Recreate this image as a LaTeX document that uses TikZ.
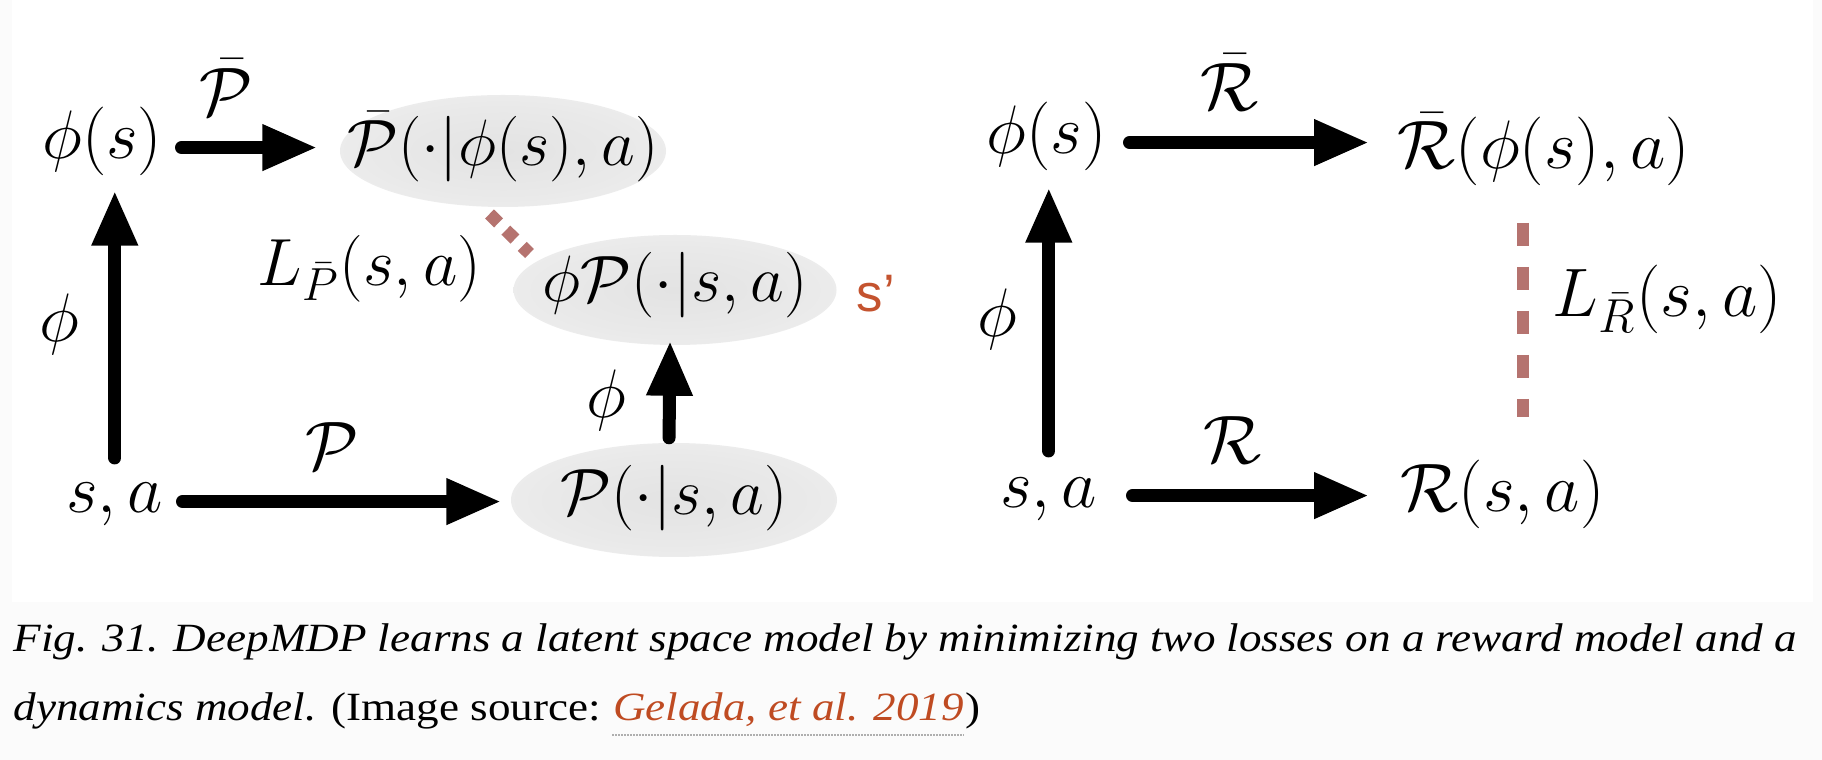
\documentclass[tikz,border=0pt]{standalone}
\usepackage[no-math]{fontspec}
\usepackage{xcolor}
\usepackage{graphicx}
\usetikzlibrary{shapes.geometric,arrows.meta,positioning,calc}
\newfontfamily\capfont[FakeStretch=1.125]{Liberation Serif}
\newfontfamily\sfont{Liberation Sans}
\definecolor{LossRed}{HTML}{B5736F}
\definecolor{SPrime}{HTML}{C4532F}
\definecolor{LinkRust}{HTML}{BF4B22}
\definecolor{PageBg}{HTML}{FBFBFB}
\definecolor{DotGray}{HTML}{AFAFAF}
\newcommand{\mth}[2][1.13]{\scalebox{#1}{$#2$}}
\pgfdeclareradialshading{blobshade}{\pgfpoint{0bp}{0bp}}{%
  color(0bp)=(black!11); color(20bp)=(black!8.5); color(36bp)=(black!5.5);
  color(45bp)=(black!3); color(50bp)=(white)}
\tikzset{
  mathnode/.style={inner sep=0pt,text height=11pt,text depth=4.5pt,
    font=\fontsize{17.28}{20}\selectfont},
  blob/.style={ellipse,shading=blobshade,minimum width=3.26cm,minimum height=1.12cm},
  lbl/.style={inner sep=0pt,font=\fontsize{17.28}{20}\selectfont},
  fatarrow/.style={line width=0.13cm,line cap=round,
    -{Triangle[length=0.55cm,width=0.43cm]}},
  lossdash/.style={draw=LossRed,line width=0.12cm,dash pattern=on 0.23cm off 0.21cm},
  lossdots/.style={draw=LossRed,line width=0.127cm,dash pattern=on 0.127cm off 0.103cm},
  sprime/.style={inner sep=0pt,text=SPrime,font=\sfont\fontsize{15}{17}\selectfont},
  captxt/.style={inner sep=0pt,font=\capfont\fontsize{11.4}{13}\selectfont}}

\begin{document}
\begin{tikzpicture}
  \useasboundingbox (0,0) rectangle (18.22,-7.60);
  \fill[PageBg] (0,0) rectangle (18.22,-7.60);
  \fill[white] (0.12,0) rectangle (18.13,-6.02);

  % transition model
  \node[mathnode,anchor=base east] (phis) at (1.63,-1.59) {\mth{\phi(s)}};
  \node[mathnode,anchor=base east] (sa) at (1.64,-5.13) {\mth{s,a}};
  \node[blob,label={[mathnode,yshift=-0.03cm]center:\mth[1.08]{\bar{\mathcal{P}}(\cdot|\phi(s),a)}}] (Pbar) at (5.03,-1.51) {};
  \node[blob,minimum width=3.23cm,minimum height=1.10cm,
    label={[mathnode]center:\mth[1.08]{\phi\mathcal{P}(\cdot|s,a)}}] (phiP) at (6.75,-2.90) {};
  \node[blob,minimum height=1.14cm,label={[mathnode,yshift=-0.03cm]center:\mth[1.08]{\mathcal{P}(\cdot|s,a)}}] (Ps) at (6.74,-5.00) {};
  \node[mathnode,anchor=base east] (lossP) at (4.82,-2.86) {\mth[1.1]{L_{\bar{P}}(s,a)}};
  \node[sprime,right=0.19cm of phiP,yshift=-0.04cm] (sp) {s’};

  \draw[fatarrow,shorten <=0.185cm,shorten >=0.22cm] (phis.east) -- (phis.east -| Pbar.west)
    node[lbl,pos=0.36,above=0.26cm] {\mth{\bar{\mathcal{P}}}};
  \draw[fatarrow,shorten <=0.185cm,shorten >=0.09cm] (sa.east) -- (sa.east -| Ps.west)
    node[lbl,pos=0.487,above=0.26cm] {\mth{\mathcal{P}}};
  \draw[fatarrow,shorten <=0.157cm,shorten >=0.151cm] (sa.north) -- (sa.north |- phis.south)
    node[lbl,pos=0.5,left=0.29cm] {\mth{\phi}};
  \draw[fatarrow,shorten <=0.045cm,shorten >=-0.05cm] ([xshift=-0.05cm]Ps.north) -- ([xshift=-0.05cm]phiP.south)
    node[lbl,pos=0.43,left=0.37cm] {\mth{\phi}};

  \coordinate (lPtop) at (4.895,-2.14);
  \coordinate (lPbot) at (5.295,-2.535);
  \draw[lossdots] (lPtop) -- (lPbot);

  % reward model
  \node[mathnode,anchor=base east] (phisR) at (11.07,-1.54) {\mth{\phi(s)}};
  \node[mathnode,anchor=base east] (saR) at (10.98,-5.07) {\mth{s,a}};
  \node[mathnode,anchor=base west] (Rbar) at (13.97,-1.69) {\mth{\bar{\mathcal{R}}(\phi(s),a)}};
  \node[mathnode,anchor=base west] (Rsa) at (14.00,-5.12) {\mth{\mathcal{R}(s,a)}};
  \node[mathnode,anchor=base west] (lossR) at (15.52,-3.17) {\mth{L_{\bar{R}}(s,a)}};

  \draw[fatarrow,shorten <=0.225cm,shorten >=0.28cm] (phisR.east) -- (phisR.east -| Rbar.west)
    node[lbl,pos=0.424,above=0.26cm] {\mth{\bar{\mathcal{R}}}};
  \draw[fatarrow,shorten <=0.345cm,shorten >=0.31cm] (saR.east) -- (saR.east -| Rsa.west)
    node[lbl,pos=0.444,above=0.26cm] {\mth{\mathcal{R}}};
  \draw[fatarrow,shorten <=0.167cm,shorten >=0.171cm] (saR.north) -- (saR.north |- phisR.south)
    node[lbl,pos=0.5,left=0.255cm] {\mth{\phi}};

  \coordinate (lRtop) at (15.23,-2.23);
  \coordinate (lRbot) at (15.23,-4.17);
  \draw[lossdash] (lRtop) -- (lRbot);

  % caption
  \node[captxt,anchor=base west] (cap1) at (0.13,-6.52)
    {\itshape Fig. 31. DeepMDP learns a latent space model by minimizing two losses on a reward model and a};
  \node[captxt,anchor=base west] (cap2a) at (0.13,-7.20) {{\itshape dynamics model.} (Image source:};
  \node[captxt,anchor=base west,text=LinkRust] (cap2b) at ([xshift=0.11cm]cap2a.base east)
    {\itshape Gelada, et al. 2019};
  \node[captxt,anchor=base west] (cap2c) at (cap2b.base east) {)};
  \draw[DotGray,line width=0.02cm,dash pattern=on 0.015cm off 0.015cm]
    ([yshift=-0.15cm]cap2b.base west) -- ([yshift=-0.15cm]cap2b.base east);
\end{tikzpicture}
\end{document}
